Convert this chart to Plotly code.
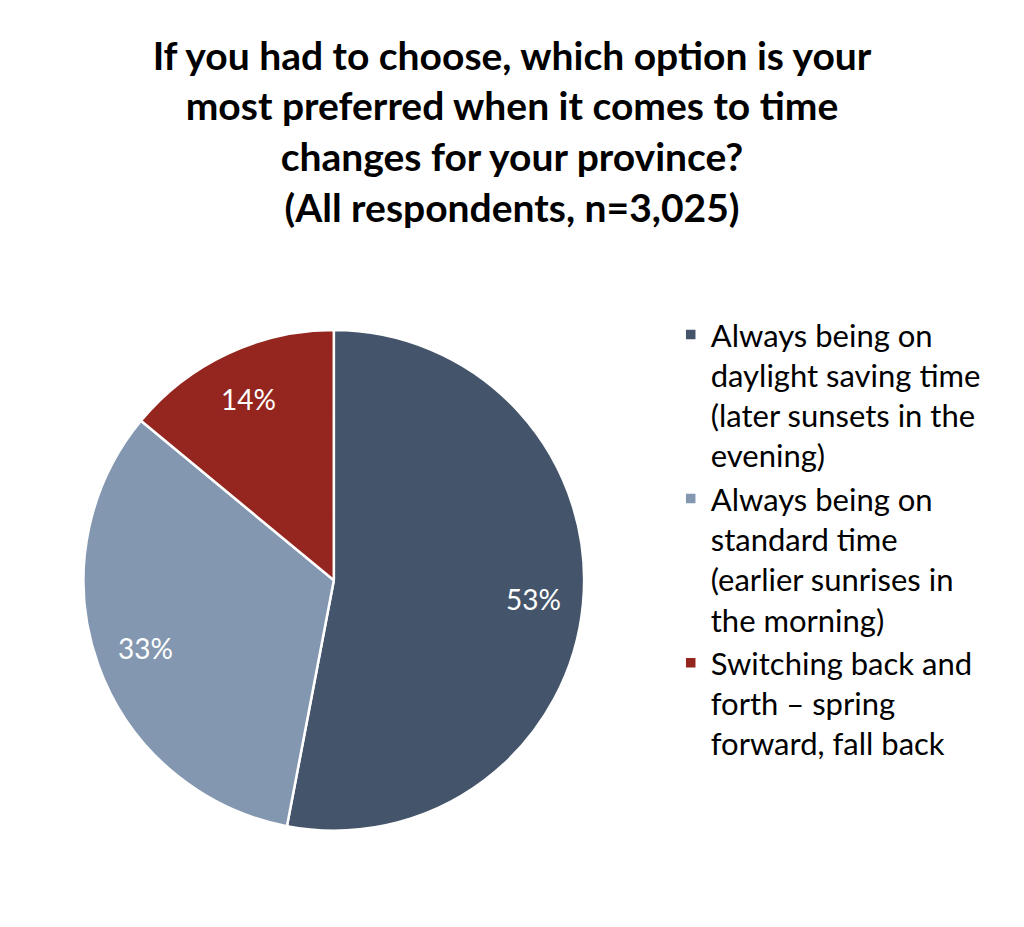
import math
import plotly.graph_objects as go

categories = [
    "Always being on<br>daylight saving time<br>(later sunsets in the<br>evening)",
    "Always being on<br>standard time<br>(earlier sunrises in<br>the morning)",
    "Switching back and<br>forth – spring<br>forward, fall back",
]
values = [53, 33, 14]
colors = ["#44546A", "#8497B0", "#94261F"]

title_text = ("<b>If you had to choose, which option is your<br>most preferred when it comes to time<br>"
              "changes for your province?<br>(All respondents, n=3,025)</b>")

W, H = 1024, 927
dom_x = [0.079, 0.573]
dom_y = [0.104, 0.644]

fig = go.Figure(go.Pie(
    labels=categories,
    values=values,
    sort=False,
    direction="clockwise",
    rotation=0,
    marker=dict(colors=colors, line=dict(color="white", width=2.5)),
    textinfo="none",
    domain=dict(x=dom_x, y=dom_y),
    hoverinfo="label+percent",
))

# data labels placed along each slice's mid-angle (derived from values)
cx = (dom_x[0] + dom_x[1]) / 2 * W
cy = (dom_y[0] + dom_y[1]) / 2 * H
R = min((dom_x[1] - dom_x[0]) * W, (dom_y[1] - dom_y[0]) * H) / 2
total = sum(values)
cum = 0
for v in values:
    mid = (cum + v / 2) / total * 2 * math.pi
    cum += v
    r = 0.8 * R
    px = cx + r * math.sin(mid)
    py = cy + r * math.cos(mid)
    fig.add_annotation(x=px / W, y=py / H, xref="paper", yref="paper",
                       xanchor="center", yanchor="middle",
                       text=f"{round(v / total * 100)}%", showarrow=False,
                       font=dict(family="Lato", size=28, color="white"))

fig.update_layout(
    width=W, height=H,
    margin=dict(l=0, r=0, t=0, b=0),
    paper_bgcolor="white",
    font=dict(family="Lato", color="black"),
    title=dict(text=title_text, x=0.5, xanchor="center", y=0.925, yanchor="top",
               font=dict(family="Lato", size=39, color="black")),
    legend=dict(x=0.655, xanchor="left", y=0.668, yanchor="top",
                font=dict(family="Lato", size=31, color="black"),
                valign="top", itemwidth=30),
    showlegend=True,
)

fig.write_html("out.html")
